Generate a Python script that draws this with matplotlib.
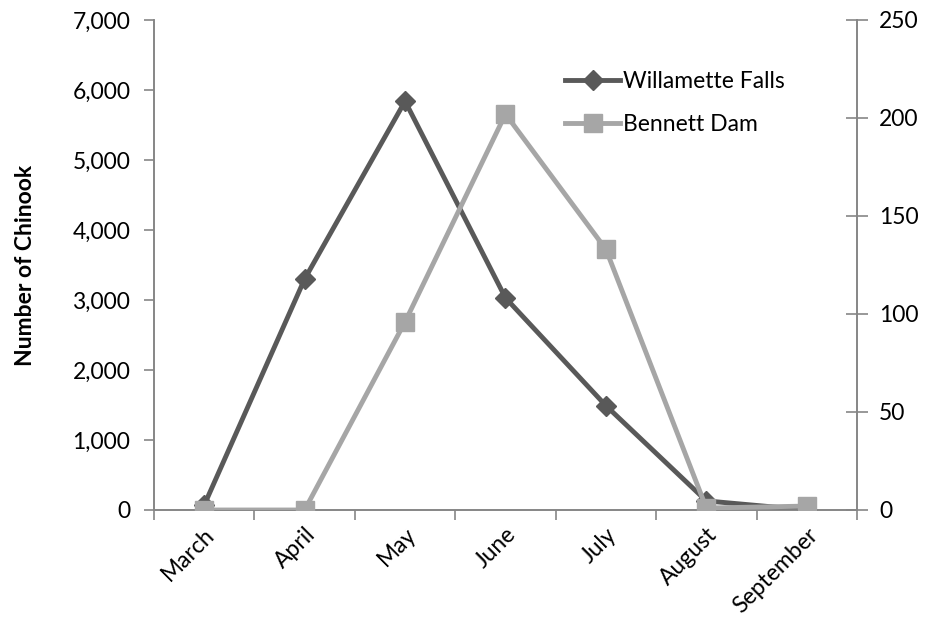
import matplotlib
matplotlib.use("Agg")
import matplotlib.pyplot as plt
from matplotlib.ticker import FuncFormatter, FixedLocator

months = ["March", "April", "May", "June", "July", "August", "September"]
willamette = [70, 3300, 5840, 3030, 1490, 130, 0]
bennett = [0, 0, 96, 202, 133, 1, 2]

plt.rcParams['font.family'] = ['Lato', 'DejaVu Sans']
axis_col = '#868686'
dark = '#595959'
light = '#A6A6A6'
fs = 16.5

fig = plt.figure(figsize=(9.29, 6.31), dpi=100)
ax = fig.add_axes([154/929, 1-510/631, (857-154)/929, 490/631])
ax2 = ax.twinx()

x = list(range(len(months)))
l1, = ax.plot(x, willamette, color=dark, lw=3.5, marker='D', ms=10.5, zorder=3,
              label='Willamette Falls')
l2, = ax2.plot(x, bennett, color=light, lw=3.5, marker='s', ms=13, zorder=3,
               label='Bennett Dam')

ax.set_xlim(-0.5, len(months) - 0.5)
ax.set_ylim(0, 7000)
ax2.set_ylim(0, 250)
ax.set_yticks(range(0, 7001, 1000))
ax.yaxis.set_major_formatter(FuncFormatter(lambda v, p: f"{int(v):,}"))
ax2.set_yticks(range(0, 251, 50))

ax.set_xticks(x)
ax.set_xticklabels(months, rotation=45, ha='right', rotation_mode='anchor', fontsize=fs)
ax.xaxis.set_minor_locator(FixedLocator([i - 0.5 for i in range(len(months) + 1)]))
ax.tick_params(axis='x', which='major', length=0, pad=10)
ax.tick_params(axis='x', which='minor', length=7, width=1.2, color=axis_col, direction='out')
ax.tick_params(axis='y', length=7, width=1.2, color=axis_col, labelsize=fs, pad=10)
ax2.tick_params(axis='y', length=16, width=1.2, color=axis_col, direction='inout', labelsize=fs, pad=8)

for a in (ax, ax2):
    for s in a.spines.values():
        s.set_color(axis_col)
        s.set_linewidth(1.2)
    a.spines['top'].set_visible(False)

ax.set_ylabel('Number of Chinook', fontsize=fs, fontweight='bold', labelpad=26)

leg = ax2.legend(handles=[l1, l2], loc='upper left', bbox_to_anchor=(0.572, 0.915),
                 frameon=False, fontsize=fs, handlelength=2.4, handletextpad=0.1,
                 labelspacing=0.95, borderaxespad=0)

fig.savefig('out.png', dpi=100)
